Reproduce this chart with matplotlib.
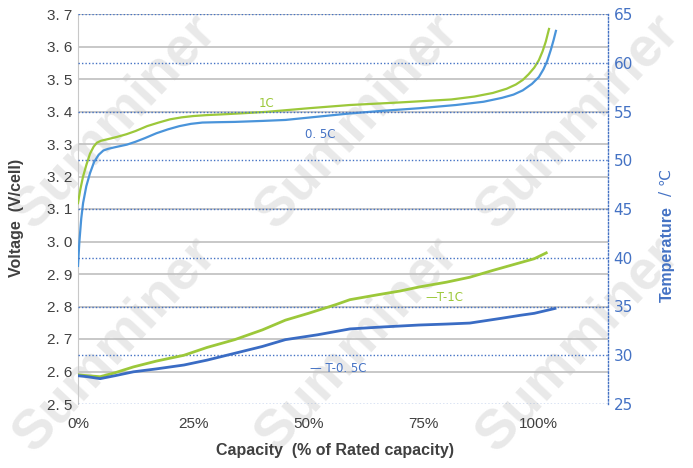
import matplotlib.pyplot as plt

plt.rcParams['font.family'] = ['Liberation Sans', 'DejaVu Sans']

# 放电容量 (%) - 电压 (V)
cap_1c = [0, 0.5, 1.1, 1.8, 2.6, 3.4, 4.1, 5, 6.5, 8.5, 10.5, 12.5, 15, 17.5, 20,
          22.5, 25, 28, 31, 35, 41, 50, 59, 70, 81, 86, 90, 93, 95, 96.5, 97.8,
          99, 100, 100.8, 101.5, 102.2]
volt_1c = [3.118, 3.16, 3.20, 3.235, 3.27, 3.292, 3.304, 3.31, 3.315, 3.322, 3.33,
           3.34, 3.355, 3.366, 3.376, 3.382, 3.386, 3.389, 3.391, 3.394, 3.399,
           3.41, 3.42, 3.428, 3.437, 3.446, 3.457, 3.47, 3.483, 3.497, 3.515,
           3.535, 3.558, 3.585, 3.615, 3.654]

cap_05c = [0, 0.3, 0.7, 1.1, 1.8, 2.6, 3.5, 4.5, 5.5, 6.5, 8, 10.6, 12.5, 14.5, 17,
           19.5, 22, 24.5, 27, 30, 34, 40, 45, 52, 59, 66, 74, 82, 88, 92, 94.5,
           96.5, 98.5, 100, 101, 101.8, 102.6, 103.2, 103.7]
volt_05c = [2.925, 3.0, 3.07, 3.118, 3.17, 3.21, 3.245, 3.267, 3.28, 3.285, 3.29,
            3.298, 3.307, 3.318, 3.333, 3.345, 3.355, 3.362, 3.366, 3.367, 3.368,
            3.371, 3.374, 3.384, 3.394, 3.402, 3.41, 3.42, 3.43, 3.442, 3.452,
            3.465, 3.485, 3.506, 3.53, 3.555, 3.59, 3.62, 3.648]

# 温度 (℃)
cap_t1c = [0, 2, 4.8, 8, 12, 17, 23, 28, 34, 40, 45, 50, 56, 59, 65, 70, 74, 80,
           85, 90, 96, 99, 101.6]
temp_1c = [28.0, 27.9, 27.8, 28.2, 28.8, 29.4, 30.0, 30.8, 31.6, 32.6, 33.6, 34.3,
           35.2, 35.7, 36.2, 36.6, 37.0, 37.5, 38.0, 38.7, 39.5, 39.9, 40.5]

cap_t05c = [0, 2, 4.8, 8, 12, 17, 23, 28, 34, 40, 45, 52, 59, 66, 74, 80, 85, 92,
            96, 99, 103.5]
temp_05c = [27.9, 27.8, 27.6, 27.9, 28.3, 28.6, 29.0, 29.5, 30.2, 30.9, 31.6, 32.1,
            32.7, 32.9, 33.1, 33.2, 33.3, 33.8, 34.1, 34.3, 34.8]

volt_ticks = [2.5, 2.6, 2.7, 2.8, 2.9, 3.0, 3.1, 3.2, 3.3, 3.4, 3.5, 3.6, 3.7]
volt_labels = ['2. 5', '2. 6', '2. 7', '2. 8', '2. 9', '3. 0', '3. 1', '3. 2',
               '3. 3', '3. 4', '3. 5', '3. 6', '3. 7']
temp_ticks = [25, 30, 35, 40, 45, 50, 55, 60, 65]
x_ticks = [0, 25, 50, 75, 100]
x_labels = ['0%', '25%', '50%', '75%', '100%']

green = '#9CC83A'
blue_v = '#4A94DA'
blue_t = '#3A6CC4'
blue_ax = '#4472C4'
grey_txt = '#404040'

W, H = 693, 468
fig = plt.figure(figsize=(W / 100, H / 100), dpi=100)
fig.patch.set_facecolor('white')

# 水印
for px, py in [(115, 122), (357, 122), (578, 122), (115, 345), (357, 345), (578, 345)]:
    fig.text(px / W, 1 - py / H, 'Summiner', fontsize=40, fontweight='bold',
             color='#e9e9e9', rotation=47, ha='center', va='center',
             rotation_mode='anchor', zorder=-5)

ax = fig.add_axes([78 / W, 1 - 404 / H, 530 / W, 390 / H])
ax.patch.set_visible(False)
ax.set_xlim(0, 115)
ax.set_ylim(2.5, 3.7)
ax.set_yticks(volt_ticks)
ax.set_yticklabels(volt_labels)
ax.set_xticks(x_ticks)
ax.set_xticklabels(x_labels)
ax.tick_params(length=0, labelsize=11, labelcolor=grey_txt)
ax.tick_params(axis='x', pad=9)
ax.tick_params(axis='y', pad=4)
ax.yaxis.grid(True, color='#bfbfbf', lw=1.2)
ax.yaxis.get_gridlines()[0].set_visible(False)
for s in ['top', 'right', 'bottom']:
    ax.spines[s].set_visible(False)
ax.spines['left'].set_color('#c8c8c8')

ax.plot(cap_1c, volt_1c, color=green, lw=1.6, zorder=3)
ax.plot(cap_05c, volt_05c, color=blue_v, lw=1.6, zorder=3)

ax.set_xlabel('Capacity  (% of Rated capacity)', fontsize=11.5, fontweight='bold',
              color=grey_txt, va='center')
ax.xaxis.set_label_coords(0.485, -(451 - 404) / 390)
ax.set_ylabel('Voltage  (V/cell)', fontsize=11.5, fontweight='bold',
              color=grey_txt, va='center')
ax.yaxis.set_label_coords((17 - 78) / 530, (404 - 218) / 390)

ax2 = ax.twinx()
ax2.set_ylim(25, 65)
ax2.set_yticks(temp_ticks)
ax2.tick_params(length=0, labelsize=11, labelcolor=blue_ax, pad=4)
for lab in ax2.get_yticklabels():
    lab.set_family('DejaVu Sans')
ax2.yaxis.grid(True, color=blue_ax, lw=1.0, ls=(0, (1, 1.5)))
for s in ['top', 'left', 'bottom']:
    ax2.spines[s].set_visible(False)
ax2.spines['right'].set_color(blue_ax)
ax2.spines['right'].set_linestyle((0, (1, 1.5)))
ax2.spines['right'].set_linewidth(1.0)

ax2.plot(cap_t1c, temp_1c, color=green, lw=2.0, zorder=3)
ax2.plot(cap_t05c, temp_05c, color=blue_t, lw=2.0, zorder=3)

ax2.set_ylabel('Temperature', fontsize=11.5, fontweight='bold', color=blue_ax,
               va='center')
ax2.yaxis.set_label_coords((667 - 78) / 530, (404 - 254) / 390)
ax2.text((667 - 78) / 530, (404 - 182) / 390, '/ ℃', transform=ax2.transAxes,
         rotation=90, ha='center', va='center', fontsize=11, color=blue_ax,
         family=['DejaVu Sans'])

# 曲线标注
lab_font = ['Liberation Sans Narrow', 'DejaVu Sans']
ax.text(41, 3.405, '1C', color=green, fontsize=8.5, ha='center', va='bottom',
        family=lab_font)
ax.text(52.5, 3.32, '0. 5C', color=blue_ax, fontsize=8.5, ha='center',
        family=lab_font)
ax2.text(79.5, 35.9, '—T-1C', color=green, fontsize=8.5, ha='center',
         va='center', family=lab_font)
ax2.text(56.5, 28.6, '— T-0. 5C', color=blue_ax, fontsize=8.5, ha='center',
         va='center', family=lab_font)

fig.savefig('out.png', dpi=100)
